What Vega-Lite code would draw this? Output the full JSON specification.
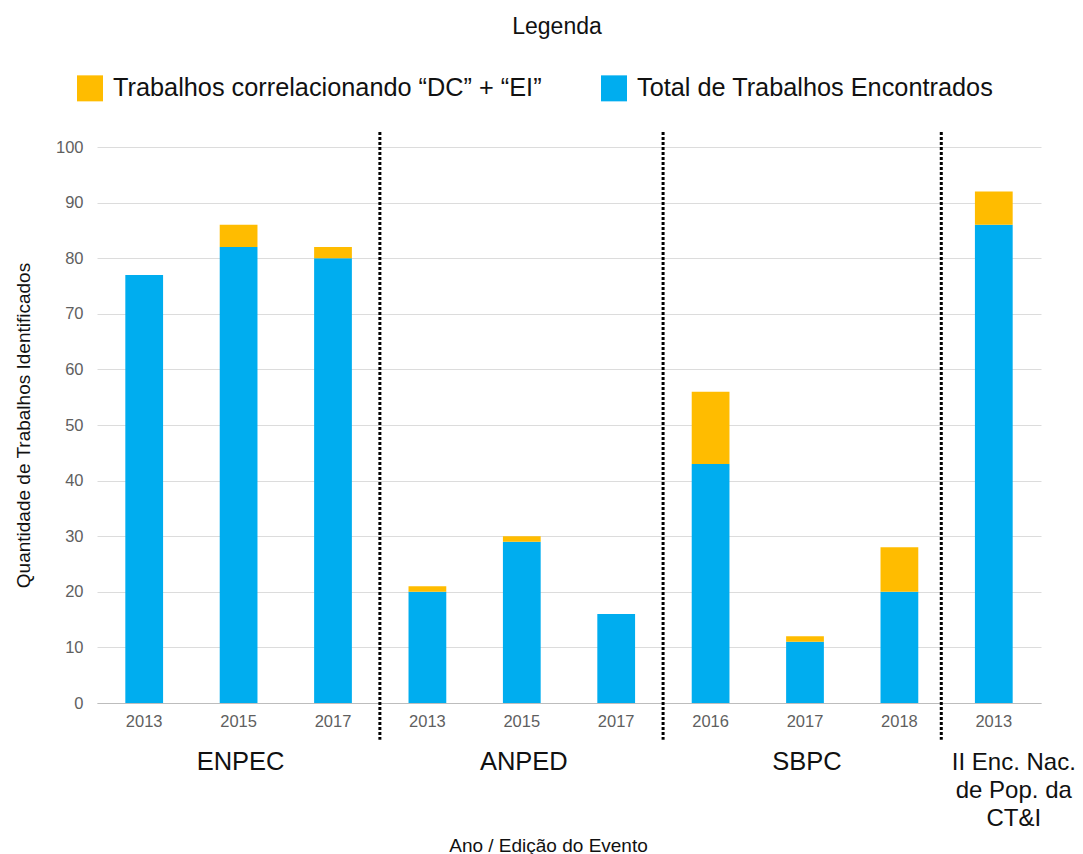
{
  "$schema": "https://vega.github.io/schema/vega-lite/v6.json",
  "width": 944,
  "height": 556,
  "autosize": "none",
  "padding": {"left": 97, "top": 147, "right": 42, "bottom": 151},
  "background": "white",
  "config": {
    "font": "Liberation Sans",
    "view": {"stroke": null}
  },
  "title": {
    "text": "Legenda",
    "fontSize": 23,
    "fontWeight": "normal",
    "color": "#111111",
    "anchor": "middle",
    "frame": "group",
    "baseline": "alphabetic",
    "offset": 18,
    "dx": -12
  },
  "layer": [
    {
      "data": {
        "values": [
          {"key": "ENPEC|2013", "serie": "Total de Trabalhos Encontrados", "valor": 77},
          {"key": "ENPEC|2013", "serie": "Trabalhos correlacionando “DC” + “EI”", "valor": 0},
          {"key": "ENPEC|2015", "serie": "Total de Trabalhos Encontrados", "valor": 82},
          {"key": "ENPEC|2015", "serie": "Trabalhos correlacionando “DC” + “EI”", "valor": 4},
          {"key": "ENPEC|2017", "serie": "Total de Trabalhos Encontrados", "valor": 80},
          {"key": "ENPEC|2017", "serie": "Trabalhos correlacionando “DC” + “EI”", "valor": 2},
          {"key": "ANPED|2013", "serie": "Total de Trabalhos Encontrados", "valor": 20},
          {"key": "ANPED|2013", "serie": "Trabalhos correlacionando “DC” + “EI”", "valor": 1},
          {"key": "ANPED|2015", "serie": "Total de Trabalhos Encontrados", "valor": 29},
          {"key": "ANPED|2015", "serie": "Trabalhos correlacionando “DC” + “EI”", "valor": 1},
          {"key": "ANPED|2017", "serie": "Total de Trabalhos Encontrados", "valor": 16},
          {"key": "ANPED|2017", "serie": "Trabalhos correlacionando “DC” + “EI”", "valor": 0},
          {"key": "SBPC|2016", "serie": "Total de Trabalhos Encontrados", "valor": 43},
          {"key": "SBPC|2016", "serie": "Trabalhos correlacionando “DC” + “EI”", "valor": 13},
          {"key": "SBPC|2017", "serie": "Total de Trabalhos Encontrados", "valor": 11},
          {"key": "SBPC|2017", "serie": "Trabalhos correlacionando “DC” + “EI”", "valor": 1},
          {"key": "SBPC|2018", "serie": "Total de Trabalhos Encontrados", "valor": 20},
          {"key": "SBPC|2018", "serie": "Trabalhos correlacionando “DC” + “EI”", "valor": 8},
          {"key": "II|2013", "serie": "Total de Trabalhos Encontrados", "valor": 86},
          {"key": "II|2013", "serie": "Trabalhos correlacionando “DC” + “EI”", "valor": 6}
        ]
      },
      "mark": {"type": "bar"},
      "encoding": {
        "x": {
          "field": "key",
          "type": "nominal",
          "sort": null,
          "scale": {
            "domain": ["ENPEC|2013", "ENPEC|2015", "ENPEC|2017", "ANPED|2013", "ANPED|2015", "ANPED|2017", "SBPC|2016", "SBPC|2017", "SBPC|2018", "II|2013"],
            "paddingInner": 0.6,
            "paddingOuter": 0.3
          },
          "axis": {
            "labelExpr": "split(datum.value, '|')[1]",
            "labelAngle": 0,
            "labelFontSize": 16.5,
            "labelColor": "#5f5f5f",
            "labelPadding": 10,
            "ticks": false,
            "domainColor": "#bdbdbd",
            "domainWidth": 1,
            "title": "Ano / Edição do Evento",
            "titleFontSize": 19,
            "titleFontWeight": "normal",
            "titleColor": "#111111",
            "titleX": 451,
            "titleY": 142,
            "titleAlign": "center",
            "titleBaseline": "middle"
          }
        },
        "y": {
          "field": "valor",
          "type": "quantitative",
          "stack": "zero",
          "scale": {"domain": [0, 100], "nice": false},
          "axis": {
            "values": [0, 10, 20, 30, 40, 50, 60, 70, 80, 90, 100],
            "labelFontSize": 16.5,
            "labelColor": "#5f5f5f",
            "labelPadding": 14,
            "ticks": false,
            "domain": false,
            "gridColor": "#dcdcdc",
            "gridWidth": 1,
            "title": "Quantidade de Trabalhos Identificados",
            "titleFontSize": 19,
            "titleFontWeight": "normal",
            "titleColor": "#111111",
            "titlePadding": 22
          }
        },
        "color": {
          "field": "serie",
          "type": "nominal",
          "scale": {
            "domain": ["Trabalhos correlacionando “DC” + “EI”", "Total de Trabalhos Encontrados"],
            "range": ["#FFBC00", "#00ADEF"]
          },
          "legend": {
            "orient": "none",
            "legendX": -20,
            "legendY": -72,
            "direction": "horizontal",
            "title": null,
            "symbolType": "square",
            "symbolSize": 676,
            "symbolStrokeWidth": 0,
            "symbolOpacity": 1,
            "labelFontSize": 25.3,
            "labelColor": "#111111",
            "labelOffset": 10,
            "labelLimit": 800,
            "columnPadding": 59,
            "padding": 0
          }
        },
        "order": {"field": "serie", "sort": "ascending"}
      }
    },
    {
      "data": {"values": [{"key": "ENPEC|2017"}, {"key": "ANPED|2017"}]},
      "mark": {"type": "rule", "color": "#000000", "strokeWidth": 3, "strokeDash": [3, 2], "xOffset": 28, "clip": false},
      "encoding": {
        "x": {"field": "key", "type": "nominal", "bandPosition": 1, "sort": null},
        "y": {"datum": 102.7, "type": "quantitative"},
        "y2": {"datum": -6.6}
      }
    },
    {
      "data": {"values": [{"key": "SBPC|2018"}]},
      "mark": {"type": "rule", "color": "#000000", "strokeWidth": 3, "strokeDash": [3, 2], "xOffset": 23, "clip": false},
      "encoding": {
        "x": {"field": "key", "type": "nominal", "bandPosition": 1, "sort": null},
        "y": {"datum": 102.7, "type": "quantitative"},
        "y2": {"datum": -6.6}
      }
    },
    {
      "data": {
        "values": [
          {"key": "ENPEC|2015", "rotulo": "ENPEC"},
          {"key": "ANPED|2015", "rotulo": "ANPED"},
          {"key": "SBPC|2017", "rotulo": "SBPC"}
        ]
      },
      "mark": {"type": "text", "fontSize": 25.5, "color": "#111111", "baseline": "top", "align": "center", "dx": 2, "clip": false},
      "encoding": {
        "x": {"field": "key", "type": "nominal", "sort": null},
        "y": {"datum": -8.4, "type": "quantitative"},
        "text": {"field": "rotulo"}
      }
    },
    {
      "data": {"values": [{"key": "II|2013", "rotulo": "II Enc. Nac.\nde Pop. da\nCT&I"}]},
      "mark": {"type": "text", "fontSize": 24, "color": "#111111", "baseline": "top", "align": "center", "lineBreak": "\n", "lineHeight": 28, "dx": 20, "clip": false},
      "encoding": {
        "x": {"field": "key", "type": "nominal", "sort": null},
        "y": {"datum": -8.6, "type": "quantitative"},
        "text": {"field": "rotulo"}
      }
    }
  ]
}
